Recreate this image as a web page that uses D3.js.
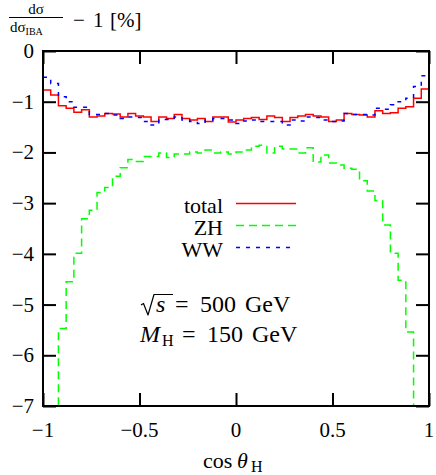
<!DOCTYPE html>
<html>
<head>
<meta charset="utf-8">
<script src="https://cdn.jsdelivr.net/npm/d3@7"></script>
<style>
  body { margin: 0; background: #fff; }
  text { font-family: "Liberation Serif", "DejaVu Serif", serif; fill: #000; }
</style>
</head>
<body>
<div id="chart"></div>
<script>
var width = 436;
var height = 475;

// bins of width 0.04 in cos(theta_H)
const binEdges = d3.range(51).map(i => -1 + i * 0.04);

const total = [-0.77,-0.87,-1.08,-1.13,-1.21,-1.16,-1.30,-1.28,-1.23,-1.24,
  -1.30,-1.23,-1.28,-1.30,-1.39,-1.30,-1.33,-1.25,-1.33,-1.36,
  -1.33,-1.39,-1.30,-1.30,-1.40,-1.36,-1.33,-1.31,-1.35,-1.28,
  -1.31,-1.39,-1.31,-1.28,-1.25,-1.28,-1.30,-1.39,-1.36,-1.23,
  -1.25,-1.26,-1.30,-1.18,-1.23,-1.22,-1.13,-1.10,-0.93,-0.75];

const zh = [-9.5,-7.6,-5.47,-4.55,-3.99,-3.31,-3.14,-2.79,-2.69,-2.47,
  -2.30,-2.14,-2.18,-2.08,-2.08,-2.01,-2.10,-2.03,-2.03,-1.99,
  -2.01,-1.95,-2.01,-1.99,-2.03,-1.99,-1.95,-1.88,-1.86,-2.01,
  -1.88,-1.93,-1.93,-2.01,-1.91,-2.19,-2.05,-2.21,-2.25,-2.31,
  -2.33,-2.56,-2.76,-2.95,-3.43,-3.99,-4.52,-5.54,-7.6,-9.5];

const ww = [-0.52,-0.64,-0.90,-1.00,-1.11,-1.11,-1.25,-1.25,-1.23,-1.26,
  -1.33,-1.30,-1.31,-1.39,-1.46,-1.35,-1.35,-1.30,-1.36,-1.39,
  -1.43,-1.36,-1.33,-1.33,-1.36,-1.43,-1.38,-1.36,-1.39,-1.39,
  -1.39,-1.46,-1.36,-1.38,-1.30,-1.31,-1.36,-1.39,-1.38,-1.23,
  -1.25,-1.25,-1.26,-1.13,-1.15,-1.06,-1.00,-0.93,-0.70,-0.49];

const seriesNames = ["total", "ZH", "WW"];
const xTicks = [-1, -0.5, 0, 0.5, 1];
const yTicks = [0, -1, -2, -3, -4, -5, -6, -7];

const seriesValues = [total, zh, ww];
const seriesColors = ["#ff0000", "#00ff00", "#0000ff"];
const seriesDash = [null, "8,5", "4,6"];

var plotL = 43, plotR = 429, plotT = 51, plotB = 406;

var x = d3.scaleLinear().domain([-1, 1]).range([plotL, plotR]);
var y = d3.scaleLinear().domain([-7, 0]).range([plotB, plotT]);

let svg = d3.select("#chart")
  .append("svg")
  .attr("width", width)
  .attr("height", height);

svg.append("defs").append("clipPath")
  .attr("id", "plotclip")
  .append("rect")
  .attr("x", plotL).attr("y", plotT)
  .attr("width", plotR - plotL).attr("height", plotB - plotT);

// histogram steps
var line = d3.line()
  .x(d => x(d[0]))
  .y(d => y(d[1]))
  .curve(d3.curveStepAfter);

var curves = svg.append("g").attr("clip-path", "url(#plotclip)");
seriesValues.forEach((vals, k) => {
  const pts = vals.map((v, i) => [binEdges[i], v]);
  pts.push([binEdges[vals.length], vals[vals.length - 1]]);
  curves.append("path")
    .datum(pts)
    .attr("d", line)
    .attr("fill", "none")
    .attr("stroke", seriesColors[k])
    .attr("stroke-width", 1.5)
    .attr("stroke-dasharray", seriesDash[k]);
});

// frame and inward ticks
var tickLen = 13;
var axes = svg.append("g");
axes.append("g").attr("transform", `translate(0,${plotB})`)
  .call(d3.axisBottom(x).tickValues(xTicks).tickSize(-tickLen).tickFormat(""));
axes.append("g").attr("transform", `translate(0,${plotT})`)
  .call(d3.axisTop(x).tickValues(xTicks).tickSize(-tickLen).tickFormat(""));
axes.append("g").attr("transform", `translate(${plotL},0)`)
  .call(d3.axisLeft(y).tickValues(yTicks).tickSize(-tickLen).tickFormat(""));
axes.append("g").attr("transform", `translate(${plotR},0)`)
  .call(d3.axisRight(y).tickValues(yTicks).tickSize(-tickLen).tickFormat(""));
axes.selectAll(".domain").remove();
axes.selectAll(".tick line").attr("stroke", "#000").attr("stroke-width", 2);
axes.append("rect")
  .attr("x", plotL).attr("y", plotT)
  .attr("width", plotR - plotL).attr("height", plotB - plotT)
  .attr("fill", "none").attr("stroke", "#000").attr("stroke-width", 2);

var fmt = v => (v < 0 ? "\u2212" : "") + Math.abs(v);

svg.append("g").selectAll("text").data(xTicks).enter().append("text")
  .attr("x", d => x(d))
  .attr("y", 437)
  .attr("text-anchor", "middle")
  .style("font-size", "21px")
  .text(fmt);

svg.append("g").selectAll("text").data(yTicks).enter().append("text")
  .attr("x", 34)
  .attr("y", d => y(d) + 7)
  .attr("text-anchor", "end")
  .style("font-size", "21px")
  .text(fmt);

// x axis title
svg.append("text").attr("x", 203).attr("y", 468)
  .style("font-size", "22px").text("cos");
svg.append("text").attr("x", 237).attr("y", 468)
  .style("font-size", "22px").style("font-style", "italic").text("\u03b8");
svg.append("text").attr("x", 251).attr("y", 472)
  .style("font-size", "16px").text("H");

// y axis title: dσ/dσ_IBA − 1 [%]
svg.append("text")
  .attr("x", 36).attr("y", 14)
  .attr("text-anchor", "middle")
  .style("font-size", "15px")
  .text("d\u03c3");
svg.append("line")
  .attr("x1", 9).attr("x2", 63)
  .attr("y1", 17.5).attr("y2", 17.5)
  .attr("stroke", "#000").attr("stroke-width", 1);
var den = svg.append("text")
  .attr("x", 10).attr("y", 32)
  .style("font-size", "15px");
den.append("tspan").text("d\u03c3");
den.append("tspan").attr("dy", 3).style("font-size", "10px").text("IBA");
svg.append("text").attr("x", 73).attr("y", 27)
  .style("font-size", "21px").text("\u2212");
svg.append("text").attr("x", 93).attr("y", 27)
  .style("font-size", "21px").text("1");
svg.append("text").attr("x", 110).attr("y", 27)
  .style("font-size", "21px").text("[%]");

// legend
var legend = svg.append("g");
seriesNames.forEach((name, k) => {
  var by = 213 + k * 22;
  legend.append("text")
    .attr("x", 223).attr("y", by)
    .attr("text-anchor", "end")
    .style("font-size", "22px")
    .text(name);
  legend.append("line")
    .attr("x1", 236).attr("x2", 296)
    .attr("y1", by - 9.5).attr("y2", by - 9.5)
    .attr("stroke", seriesColors[k])
    .attr("stroke-width", 1.5)
    .attr("stroke-dasharray", seriesDash[k]);
});

// annotation: sqrt(s) = 500 GeV
var ax = 140, ab1 = 312, ab2 = 342;
svg.append("path")
  .attr("d", `M${ax + 1},${ab1 - 7} L${ax + 3.5},${ab1 - 8.5} L${ax + 8},${ab1 + 3} L${ax + 14},${ab1 - 17.5} H${ax + 33}`)
  .attr("fill", "none").attr("stroke", "#000").attr("stroke-width", 1.2)
  .attr("stroke-linejoin", "round");
svg.append("text").attr("x", ax + 16).attr("y", ab1)
  .style("font-size", "24px").style("font-style", "italic").text("s");
svg.append("text").attr("x", 175).attr("y", ab1)
  .style("font-size", "24px").text("=");
svg.append("text").attr("x", 200).attr("y", ab1)
  .style("font-size", "24px").text("500");
svg.append("text").attr("x", 245).attr("y", ab1)
  .style("font-size", "24px").text("GeV");

// M_H = 150 GeV
svg.append("text").attr("x", ax).attr("y", ab2)
  .style("font-size", "24px").style("font-style", "italic").text("M");
svg.append("text").attr("x", 162).attr("y", ab2 + 4)
  .style("font-size", "16px").text("H");
svg.append("text").attr("x", 182).attr("y", ab2)
  .style("font-size", "24px").text("=");
svg.append("text").attr("x", 207).attr("y", ab2)
  .style("font-size", "24px").text("150");
svg.append("text").attr("x", 252).attr("y", ab2)
  .style("font-size", "24px").text("GeV");
</script>
</body>
</html>
